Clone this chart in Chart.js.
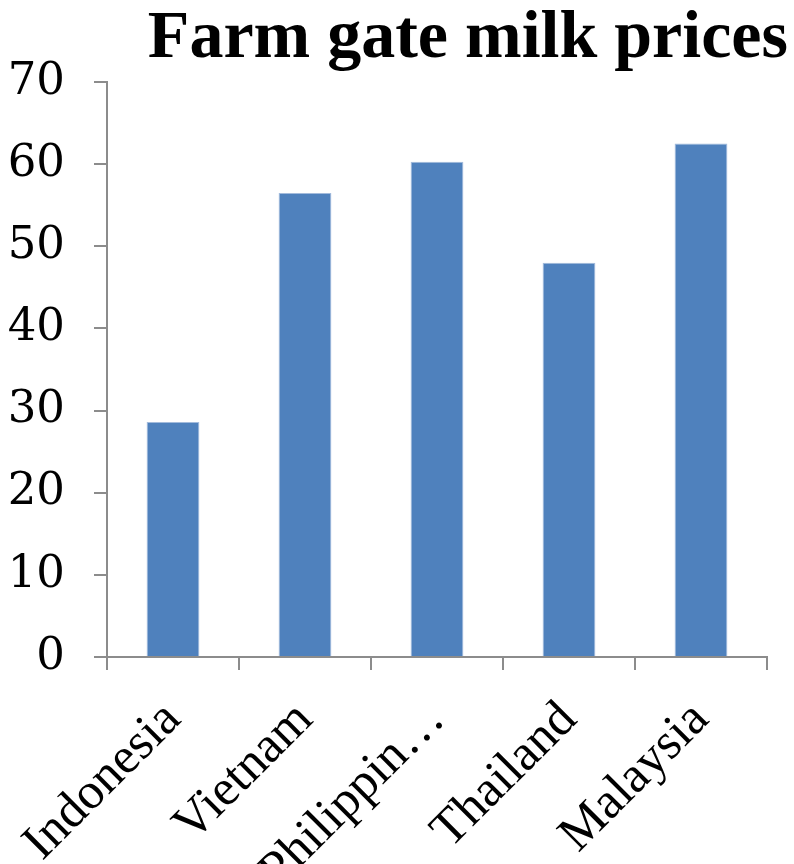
<!DOCTYPE html>
<html>
<head>
<meta charset="utf-8">
<script src="https://cdn.jsdelivr.net/npm/chart.js@4.4.1/dist/chart.umd.min.js"></script>
<style>
  html, body { margin: 0; padding: 0; background: #ffffff; }
  #wrap { width: 794px; height: 864px; position: relative; }
</style>
</head>
<body>
<div id="wrap"><canvas id="chart" width="794" height="864"></canvas></div>
<script>
// Farm gate milk prices by country
const categories = ['Indonesia', 'Vietnam', 'Philippines', 'Thailand', 'Malaysia'];
const prices = [28.6, 56.5, 60.3, 48.0, 62.5];
const yTicks = [0, 10, 20, 30, 40, 50, 60, 70];

const axisGray = '#8c8c8c';

new Chart(document.getElementById('chart'), {
  type: 'bar',
  data: {
    labels: categories,
    datasets: [{
      data: prices,
      backgroundColor: '#4f81bd',
      borderColor: '#a3bbdc',
      borderWidth: 1,
      barPercentage: 0.4,
      categoryPercentage: 1.0
    }]
  },
  options: {
    responsive: false,
    animation: false,
    layout: { padding: { left: 0, right: 6, top: 0, bottom: 0 } },
    plugins: {
      legend: { display: false },
      tooltip: { enabled: false },
      title: {
        display: true,
        text: 'Farm gate milk prices',
        align: 'end',
        color: '#000000',
        font: { family: '"Liberation Serif", serif', size: 68, weight: 'bold', lineHeight: 1.0 },
        padding: { top: 5, bottom: 9 }
      }
    },
    scales: {
      x: {
        offset: true,
        grid: {
          display: true,
          offset: true,
          drawOnChartArea: false,
          drawTicks: true,
          tickLength: 13,
          color: axisGray,
          lineWidth: 2
        },
        border: { display: true, color: axisGray, width: 2 },
        ticks: {
          color: '#000000',
          font: { family: '"Liberation Serif", serif', size: 51 },
          minRotation: 45,
          maxRotation: 45,
          autoSkip: false,
          padding: 20,
          labelOffset: 0,
          callback: function (value, index) {
            const s = categories[index];
            return s.length > 9 ? s.slice(0, 9) + '…' : s;
          }
        },
        afterFit: function (scale) { scale.height = 207; }
      },
      y: {
        min: 0,
        max: 70,
        grid: {
          display: true,
          drawOnChartArea: false,
          drawTicks: true,
          tickLength: 13,
          color: axisGray,
          lineWidth: 2
        },
        border: { display: true, color: axisGray, width: 2 },
        afterBuildTicks: function (scale) {
          scale.ticks = yTicks.map(v => ({ value: v }));
        },
        ticks: {
          color: '#000000',
          font: { family: '"DejaVu Serif", serif', size: 45 },
          padding: 29
        },
        afterFit: function (scale) { scale.width = 107; }
      },
      yRight: {
        position: 'right',
        display: true,
        grid: { display: false },
        border: { display: false },
        ticks: { display: false },
        afterFit: function (scale) { scale.width = 21; }
      }
    }
  }
});
</script>
</body>
</html>
